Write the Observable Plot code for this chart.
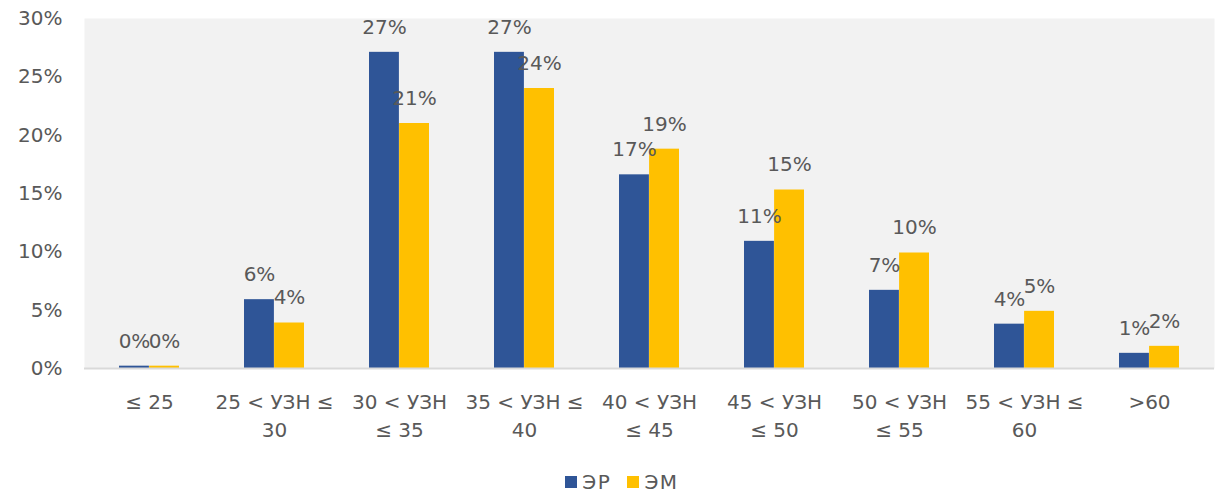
<!DOCTYPE html>
<html>
<head>
<meta charset="utf-8">
<script src="https://cdn.jsdelivr.net/npm/d3@7"></script>
<script src="https://cdn.jsdelivr.net/npm/@observablehq/plot@0.6"></script>
<style>
  html, body { margin: 0; padding: 0; background: #fff; }
  body { width: 1216px; height: 493px; overflow: hidden; font-family: "DejaVu Sans", sans-serif; }
  #legend { position: relative; height: 30px; margin-top: 4px; display: flex; justify-content: center; align-items: center; gap: 16px; font-size: 20px; letter-spacing: 1.5px; color: #595959; padding-left: 28px; }
  #legend .item { display: flex; align-items: center; gap: 5px; }
  #legend .sw { width: 12px; height: 12px; display: inline-block; }
</style>
</head>
<body>
<div id="chart"></div>
<div id="legend"></div>
<script>
const categories = ["≤ 25", "25 < УЗН ≤\n30", "30 < УЗН\n≤ 35", "35 < УЗН ≤\n40", "40 < УЗН\n≤ 45", "45 < УЗН\n≤ 50", "50 < УЗН\n≤ 55", "55 < УЗН ≤\n60", ">60"];
const seriesNames = ["ЭР", "ЭМ"];
const valuesER = [0.002, 0.059, 0.271, 0.271, 0.166, 0.109, 0.067, 0.038, 0.013];
const valuesEM = [0.002, 0.039, 0.210, 0.240, 0.188, 0.153, 0.099, 0.049, 0.019];
const colors = ["#2f5597", "#ffc000"];
const yTicks = [0, 0.05, 0.10, 0.15, 0.20, 0.25, 0.30];

const er = categories.map((c, i) => ({category: c, value: valuesER[i]}));
const em = categories.map((c, i) => ({category: c, value: valuesEM[i]}));
const pct = d => Math.round(d.value * 100) + "%";

const plot = Plot.plot({
  width: 1216,
  height: 463,
  marginTop: 18,
  marginBottom: 95,
  marginLeft: 84,
  marginRight: 2,
  style: {fontFamily: "DejaVu Sans, sans-serif", fontSize: "20px", color: "#595959", background: "transparent"},
  x: {type: "band", domain: categories, paddingInner: 0.52, paddingOuter: 0.26, label: null},
  y: {domain: [0, 0.30], label: null},
  marks: [
    Plot.frame({fill: "#f2f2f2", stroke: null}),
    Plot.barY(er, {x: "category", y: "value", fill: colors[0], insetRight: 30.1}),
    Plot.barY(em, {x: "category", y: "value", fill: colors[1], insetLeft: 30.1}),
    Plot.ruleY([0], {stroke: "#d9d9d9", strokeWidth: 2}),
    Plot.text(er, {x: "category", y: "value", text: pct, dx: -15, dy: -25, fill: "#595959", fontSize: 20}),
    Plot.text(em, {x: "category", y: "value", text: pct, dx: 15, dy: -25, fill: "#595959", fontSize: 20}),
    Plot.axisY({ticks: yTicks, tickFormat: d => Math.round(d * 100) + "%", tickSize: 0, tickPadding: 22, fill: "#595959", fontSize: 20, label: null}),
    Plot.axisX({tickSize: 0, tickPadding: 21, fill: "#595959", fontSize: 20, lineHeight: 1.4, label: null, textAnchor: "middle"})
  ]
});
document.getElementById("chart").appendChild(plot);

const legend = document.getElementById("legend");
seriesNames.forEach((name, i) => {
  const item = document.createElement("span");
  item.className = "item";
  const sw = document.createElement("span");
  sw.className = "sw";
  sw.style.background = colors[i];
  item.appendChild(sw);
  item.appendChild(document.createTextNode(name));
  legend.appendChild(item);
});
</script>
</body>
</html>
